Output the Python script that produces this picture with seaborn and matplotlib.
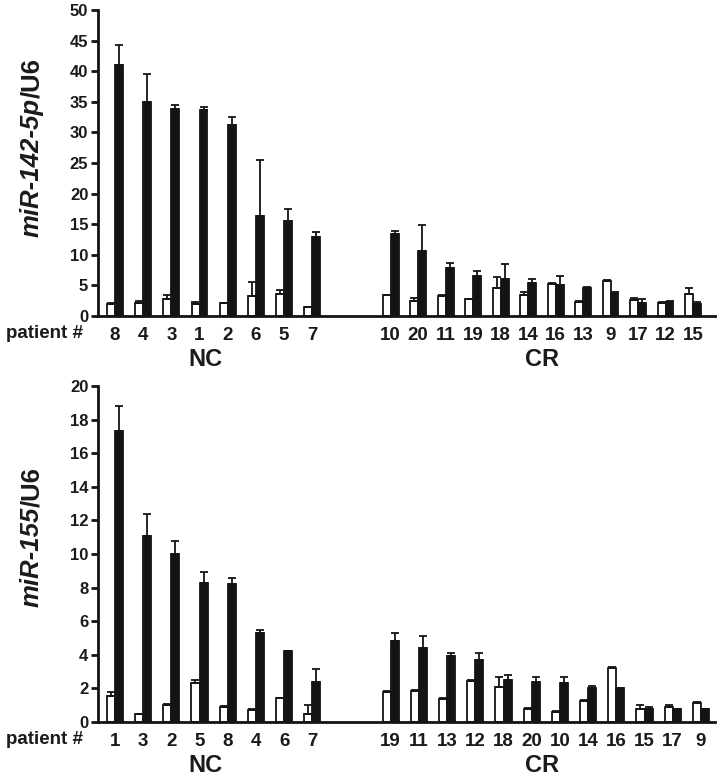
import numpy as np
import pandas as pd
import matplotlib
matplotlib.use("Agg")
import matplotlib.pyplot as plt
import seaborn as sns

sns.set_style("white")
plt.rcParams['font.family'] = ['Liberation Sans', 'DejaVu Sans']
plt.rcParams['font.weight'] = 'bold'

# ---- datos: miR-142-5p / U6 ----
top_nc_ids = ['8', '4', '3', '1', '2', '6', '5', '7']
top_cr_ids = ['10', '20', '11', '19', '18', '14', '16', '13', '9', '17', '12', '15']
top_white = [2.0, 2.1, 2.8, 2.0, 2.1, 3.3, 3.6, 1.4,
             3.4, 2.5, 3.3, 2.7, 4.5, 3.4, 5.3, 2.3, 5.8, 2.6, 2.2, 3.6]
top_white_err = [0.2, 0.4, 0.6, 0.3, 0.1, 2.2, 0.6, 0.1,
                 0.1, 0.5, 0.1, 0.1, 1.9, 0.6, 0.1, 0.1, 0.1, 0.4, 0.1, 1.0]
top_black = [41.0, 35.0, 33.9, 33.7, 31.2, 16.4, 15.6, 12.9,
             13.4, 10.6, 7.8, 6.6, 6.0, 5.4, 5.1, 4.6, 3.8, 2.1, 2.3, 2.0]
top_black_err = [3.2, 4.6, 0.5, 0.5, 1.3, 9.1, 1.9, 0.9,
                 0.5, 4.3, 0.9, 0.8, 2.5, 0.6, 1.5, 0.1, 0.2, 0.6, 0.1, 0.3]

# ---- datos: miR-155 / U6 ----
bot_nc_ids = ['1', '3', '2', '5', '8', '4', '6', '7']
bot_cr_ids = ['19', '11', '13', '12', '18', '20', '10', '14', '16', '15', '17', '9']
bot_white = [1.55, 0.45, 1.0, 2.3, 0.9, 0.7, 1.4, 0.45,
             1.8, 1.85, 1.35, 2.45, 2.1, 0.8, 0.6, 1.25, 3.2, 0.8, 0.9, 1.15]
bot_white_err = [0.25, 0.05, 0.05, 0.2, 0.05, 0.05, 0.05, 0.55,
                 0.05, 0.05, 0.05, 0.05, 0.6, 0.05, 0.05, 0.05, 0.05, 0.2, 0.1, 0.05]
bot_black = [17.3, 11.1, 10.0, 8.3, 8.2, 5.3, 4.2, 2.4,
             4.8, 4.4, 3.9, 3.7, 2.5, 2.4, 2.3, 2.0, 2.0, 0.8, 0.75, 0.75]
bot_black_err = [1.5, 1.3, 0.8, 0.6, 0.4, 0.2, 0.02, 0.75,
                 0.5, 0.7, 0.2, 0.4, 0.3, 0.3, 0.4, 0.15, 0.02, 0.1, 0.02, 0.02]

bar_w = 0.57
fig = plt.figure(figsize=(7.23, 7.82), dpi=100)
ax1 = fig.add_axes([98/723, 1-316/782, 617/723, 306/782])
ax2 = fig.add_axes([98/723, 1-722/782, 617/723, 336/782])


def panel(ax, nc_ids, cr_ids, white, white_err, black, black_err, cr_step, ymax, ystep):
    pos = list(np.arange(len(nc_ids), dtype=float)) + \
        list(9.78 + cr_step*np.arange(len(cr_ids)))
    df = pd.DataFrame({
        'pos': pos*2,
        'val': list(white) + list(black),
        'grp': ['pre']*len(pos) + ['post']*len(pos),
    })
    sns.barplot(data=df, x='pos', y='val', hue='grp', native_scale=True,
                palette={'pre': 'white', 'post': '#141414'}, width=bar_w,
                edgecolor='#141414', linewidth=1.3, errorbar=None,
                legend=False, ax=ax)
    p = np.array(pos)
    z = np.zeros(len(p))
    ax.errorbar(p - bar_w/4, white, yerr=[z, white_err], fmt='none',
                ecolor='#141414', elinewidth=1.3, capsize=3.2, capthick=1.3, zorder=1)
    ax.errorbar(p + bar_w/4, black, yerr=[z, black_err], fmt='none',
                ecolor='#141414', elinewidth=1.3, capsize=3.2, capthick=1.3, zorder=1)
    ax.set_xlim(-0.6, 21.28)
    ax.set_ylim(0, ymax)
    ax.set_yticks(np.arange(0, ymax + 0.01, ystep))
    ax.set_xticks(p)
    ax.set_xticklabels(nc_ids + cr_ids)
    ax.set_xlabel('')
    ax.set_ylabel('')
    sns.despine(ax=ax)
    for s in ['left', 'bottom']:
        ax.spines[s].set_linewidth(2)
        ax.spines[s].set_color('#141414')
    ax.tick_params(axis='y', length=5, width=2, direction='out', labelsize=12,
                   pad=2, left=True, color='#141414')
    ax.tick_params(axis='x', length=0, labelsize=13.5, pad=8)
    for lab in ax.get_xticklabels() + ax.get_yticklabels():
        lab.set_fontweight('bold')
        lab.set_color('#1a1a1a')


panel(ax1, top_nc_ids, top_cr_ids, top_white, top_white_err, top_black,
      top_black_err, 0.975, 50, 5)
panel(ax2, bot_nc_ids, bot_cr_ids, bot_white, bot_white_err, bot_black,
      bot_black_err, 1.0, 20, 2)

# textos de grupos
for yp, yg in [(334, 360), (740, 766)]:
    fig.text(45/723, 1-yp/782, 'patient #', ha='center', va='center',
             fontsize=13.5, fontweight='bold', color='#1a1a1a')
    fig.text(205/723, 1-yg/782, 'NC', ha='center', va='center',
             fontsize=17, fontweight='bold', color='#1a1a1a')
    fig.text(542/723, 1-yg/782, 'CR', ha='center', va='center',
             fontsize=17, fontweight='bold', color='#1a1a1a')

# etiquetas del eje y (parte en cursiva + /U6)
fig.canvas.draw()
for name, ybot in [('miR-142-5p', 545), ('miR-155', 175)]:
    t1 = fig.text(32/723, ybot/782, name, rotation=90, ha='center', va='bottom',
                  fontsize=18.5, fontweight='bold', fontstyle='italic', color='#1a1a1a')
    fig.canvas.draw()
    bb = t1.get_window_extent()
    fig.text(32/723, bb.y1/782, '/U6', rotation=90, ha='center', va='bottom',
             fontsize=18.5, fontweight='bold', color='#1a1a1a')

fig.savefig('out.png', dpi=100)
